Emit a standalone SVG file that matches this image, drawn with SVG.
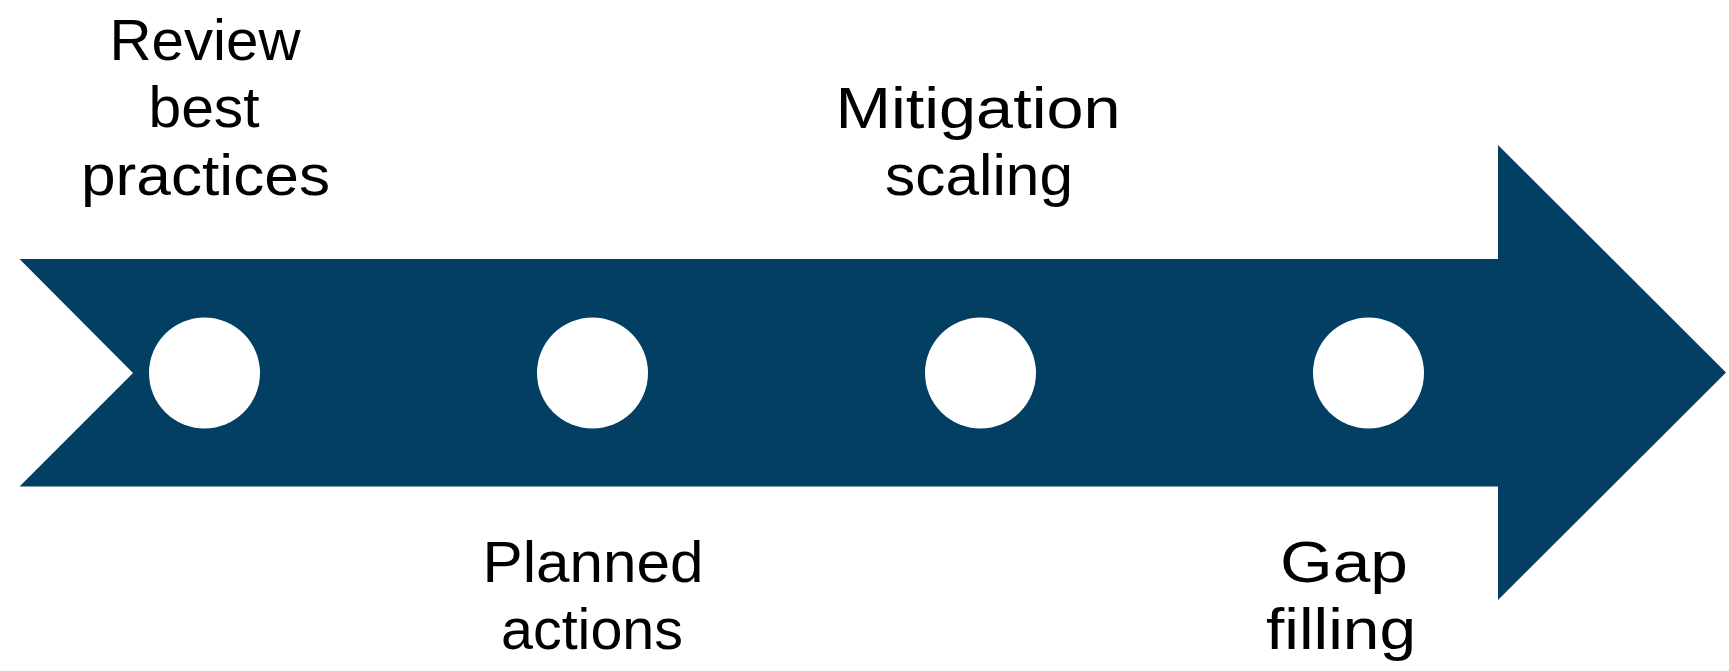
<svg xmlns="http://www.w3.org/2000/svg" width="1729" height="671" viewBox="0 0 1729 671">
  <style>
    .arrow { fill: #023F63; }
    .dot { fill: #FFFFFF; }
    .lbl { font-family: "Liberation Sans", Arial, sans-serif; font-size: 58px; fill: #000000; text-anchor: middle; }
  </style>
  <rect width="1729" height="671" fill="#FFFFFF"/>
  <g id="timeline-arrow">
    <polygon class="arrow" points="19.5,259 1498,259 1498,145 1726,372.5 1498,600 1498,486.5 19.5,486.5 133,373"/>
  </g>
  <g id="connectors"></g>
  <g id="step1">
    <circle class="dot" cx="204.5" cy="373" r="55.5"/>
    <text class="lbl" x="205" y="60" textLength="191" lengthAdjust="spacingAndGlyphs">Review</text>
    <text class="lbl" x="204" y="127" textLength="111" lengthAdjust="spacingAndGlyphs">best</text>
    <text class="lbl" x="205.5" y="195" textLength="249" lengthAdjust="spacingAndGlyphs">practices</text>
  </g>
  <g id="step2">
    <circle class="dot" cx="592.5" cy="373" r="55.5"/>
    <text class="lbl" x="593" y="582" textLength="221" lengthAdjust="spacingAndGlyphs">Planned</text>
    <text class="lbl" x="592" y="649" textLength="182" lengthAdjust="spacingAndGlyphs">actions</text>
  </g>
  <g id="step3">
    <circle class="dot" cx="980.5" cy="373" r="55.5"/>
    <text class="lbl" x="978" y="128" textLength="285" lengthAdjust="spacingAndGlyphs">Mitigation</text>
    <text class="lbl" x="979" y="195" textLength="188" lengthAdjust="spacingAndGlyphs">scaling</text>
  </g>
  <g id="step4">
    <circle class="dot" cx="1368.5" cy="373" r="55.5"/>
    <text class="lbl" x="1344" y="582" textLength="128" lengthAdjust="spacingAndGlyphs">Gap</text>
    <text class="lbl" x="1341" y="649" textLength="150" lengthAdjust="spacingAndGlyphs">filling</text>
  </g>
</svg>
